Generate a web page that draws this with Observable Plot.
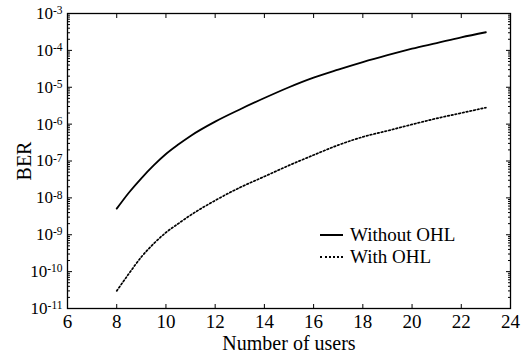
<!DOCTYPE html>
<html><head><meta charset="utf-8">
<script src="https://cdn.jsdelivr.net/npm/d3@7"></script>
<script src="https://cdn.jsdelivr.net/npm/@observablehq/plot@0.6"></script>
<style>
body{margin:0;background:#fff}
#c{position:relative;width:521px;height:356px;font-family:"Liberation Serif","Times New Roman",serif;color:#000}
#legend{position:absolute;left:320px;top:224px;font-size:19px;line-height:22px}
#legend .row{display:flex;align-items:center;white-space:nowrap}
#legend .sw{width:23px;margin-right:7px;height:0}
</style>
</head><body><div id="c"><div id="legend"></div></div>
<script>
const users = [8, 8.5, 9, 9.5, 10, 10.5, 11, 12, 13, 14, 15, 16, 17, 18, 19, 20, 21, 22, 23];
const berWithout = [5.1e-9, 1.4e-8, 3.4e-8, 7.6e-8, 1.55e-7, 2.8e-7, 4.8e-7, 1.17e-6, 2.5e-6, 5.1e-6, 1.0e-5, 1.82e-5, 3.0e-5, 4.8e-5, 7.4e-5, 1.11e-4, 1.58e-4, 2.26e-4, 3.1e-4];
const berWith = [3.0e-11, 8.9e-11, 2.5e-10, 5.7e-10, 1.15e-9, 2.0e-9, 3.4e-9, 8.5e-9, 1.9e-8, 3.8e-8, 7.6e-8, 1.45e-7, 2.7e-7, 4.5e-7, 6.6e-7, 9.8e-7, 1.43e-6, 2.0e-6, 2.8e-6];
const seriesNames = ["Without OHL", "With OHL"];
const xTicks = [6, 8, 10, 12, 14, 16, 18, 20, 22, 24];
const yExponents = [-11, -10, -9, -8, -7, -6, -5, -4, -3];

const decades = yExponents.map(e => Math.pow(10, e));
const minor = [];
for (const e of yExponents.slice(0, -1)) for (let k = 2; k <= 9; k++) minor.push(k * Math.pow(10, e));

const rows = [];
users.forEach((u, i) => {
  rows.push({users: u, ber: berWithout[i], series: seriesNames[0]});
  rows.push({users: u, ber: berWith[i], series: seriesNames[1]});
});

const chart = Plot.plot({
  width: 521, height: 356,
  marginLeft: 67, marginRight: 11, marginTop: 13, marginBottom: 48,
  style: {fontFamily: "'Liberation Serif', 'Times New Roman', serif", fontSize: "18px", color: "#000", background: "#fff", overflow: "visible"},
  x: {domain: [6, 24]},
  y: {type: "log", domain: [1e-11, 1e-3]},
  marks: [
    Plot.axisX({anchor: "bottom", ticks: xTicks, tickSize: 0, tickPadding: 6, fontSize: 19, tickFormat: d => String(d), label: null}),
    Plot.axisX({anchor: "bottom", ticks: [], tickSize: 0, fontSize: 20, label: "Number of users", labelAnchor: "center", labelOffset: 41, labelArrow: "none"}),
    Plot.axisX({anchor: "bottom", ticks: xTicks.slice(1, -1), tickSize: -4, tickFormat: () => "", label: null}),
    Plot.axisX({anchor: "top", ticks: xTicks.slice(1, -1), tickSize: -4, tickFormat: () => "", label: null}),
    Plot.axisY({anchor: "left", ticks: decades, tickSize: 0, tickPadding: 5, fontSize: 17, tickFormat: d => "E" + Math.round(Math.log10(d)), label: null}),
    Plot.axisY({anchor: "left", ticks: [], tickSize: 0, fontSize: 20, label: "BER", labelAnchor: "center", labelOffset: 51, labelArrow: "none"}),
    Plot.axisY({anchor: "left", ticks: decades, tickSize: -5, tickFormat: () => "", label: null}),
    Plot.axisY({anchor: "right", ticks: decades, tickSize: -5, tickFormat: () => "", label: null}),
    Plot.axisY({anchor: "left", ticks: minor, tickSize: -3, tickFormat: () => "", label: null}),
    Plot.axisY({anchor: "right", ticks: minor, tickSize: -3, tickFormat: () => "", label: null}),
    Plot.frame({stroke: "#000", strokeWidth: 1.3}),
    Plot.line(rows.filter(d => d.series === seriesNames[0]), {x: "users", y: "ber", stroke: "#000", strokeWidth: 1.8, curve: "monotone-x"}),
    Plot.line(rows.filter(d => d.series === seriesNames[1]), {x: "users", y: "ber", stroke: "#000", strokeWidth: 1.7, strokeDasharray: "1.6,2.2", curve: "monotone-x"})
  ]
});

// superscript exponents on y tick labels
d3.select(chart).selectAll("text").each(function() {
  const t = this.textContent;
  if (/^E-?\d+$/.test(t)) {
    const exp = t.slice(1);
    const sel = d3.select(this);
    sel.text(null);
    sel.append("tspan").text("10");
    sel.append("tspan").attr("dy", "-0.42em").attr("font-size", "11.5px").text(exp);
  }
});

document.getElementById("c").prepend(chart);
chart.style.position = "absolute"; chart.style.left = "0"; chart.style.top = "0";

const legend = document.getElementById("legend");
const styles = ["2px solid #000", "2px dotted #000"];
seriesNames.forEach((name, i) => {
  const row = document.createElement("div"); row.className = "row";
  const sw = document.createElement("div"); sw.className = "sw"; sw.style.borderTop = styles[i];
  const tx = document.createElement("span"); tx.textContent = name;
  row.append(sw, tx); legend.append(row);
});
</script>
</body></html>
